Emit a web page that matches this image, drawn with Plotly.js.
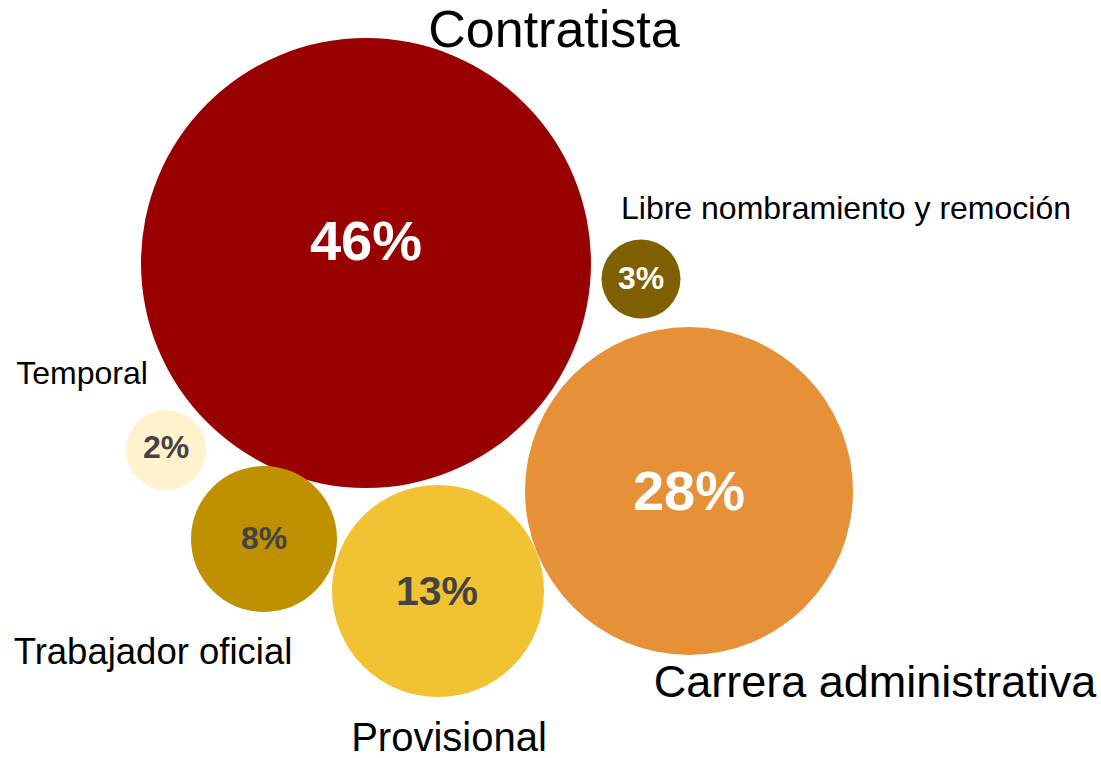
<!DOCTYPE html>
<html>
<head>
<meta charset="utf-8">
<script src="https://cdn.plot.ly/plotly-3.0.1.min.js"></script>
<style>html,body{margin:0;padding:0;background:#fff;}#chart{width:1101px;height:758px;}</style>
</head>
<body>
<div id="chart"></div>
<script>
// ---- data ----
const categories = ["Contratista", "Libre nombramiento y remoción", "Carrera administrativa", "Temporal", "Trabajador oficial", "Provisional"];
const values = [46, 3, 28, 2, 8, 13];

// ---- layout of the bubbles (pixel space) ----
const bubbleX = [366, 641, 689, 166, 264, 438];
const bubbleY = [263, 279, 491, 450, 539, 591];
const bubbleD = [450, 79, 328, 80, 146, 212];
const colors = ["#990000", "#7F6000", "#E69138", "#FFF2CC", "#BF9000", "#F1C232"];

const pctX = [366, 641, 689, 166, 264, 437];
const pctY = [246, 281, 496, 450, 541, 595];
const pctSize = [56, 32, 56, 32, 32, 41];
const pctColor = ["#FFFFFF", "#FFFFFF", "#FFFFFF", "#434343", "#434343", "#434343"];

const labX = [554, 846, 875, 82, 153, 449];
const labY = [34, 211, 686, 376, 655, 741];
const labSize = [52, 32, 45, 32, 36.5, 40];

const traces = [
  {
    type: "scatter", mode: "markers",
    x: bubbleX, y: bubbleY,
    marker: {size: bubbleD, color: colors, line: {width: 0}, opacity: 1},
    hoverinfo: "skip", showlegend: false, cliponaxis: false
  },
  {
    type: "scatter", mode: "text",
    x: pctX, y: pctY,
    texttemplate: values.map(v => "<b>" + v + "%</b>"),
    text: values.map(v => v + "%"),
    textposition: "middle center",
    textfont: {family: "Liberation Sans, Arial, sans-serif", size: pctSize, color: pctColor},
    hoverinfo: "skip", showlegend: false, cliponaxis: false
  },
  {
    type: "scatter", mode: "text",
    x: labX, y: labY,
    text: categories,
    textposition: "middle center",
    textfont: {family: "Liberation Sans, Arial, sans-serif", size: labSize, color: "#000000"},
    hoverinfo: "skip", showlegend: false, cliponaxis: false
  }
];

const layout = {
  width: 1101, height: 758,
  margin: {l: 0, r: 0, t: 0, b: 0, pad: 0},
  paper_bgcolor: "#FFFFFF", plot_bgcolor: "#FFFFFF",
  xaxis: {range: [0, 1101], visible: false, fixedrange: true},
  yaxis: {range: [758, 0], visible: false, fixedrange: true},
  showlegend: false
};

Plotly.newPlot("chart", traces, layout, {displayModeBar: false, staticPlot: true});
</script>
</body>
</html>
